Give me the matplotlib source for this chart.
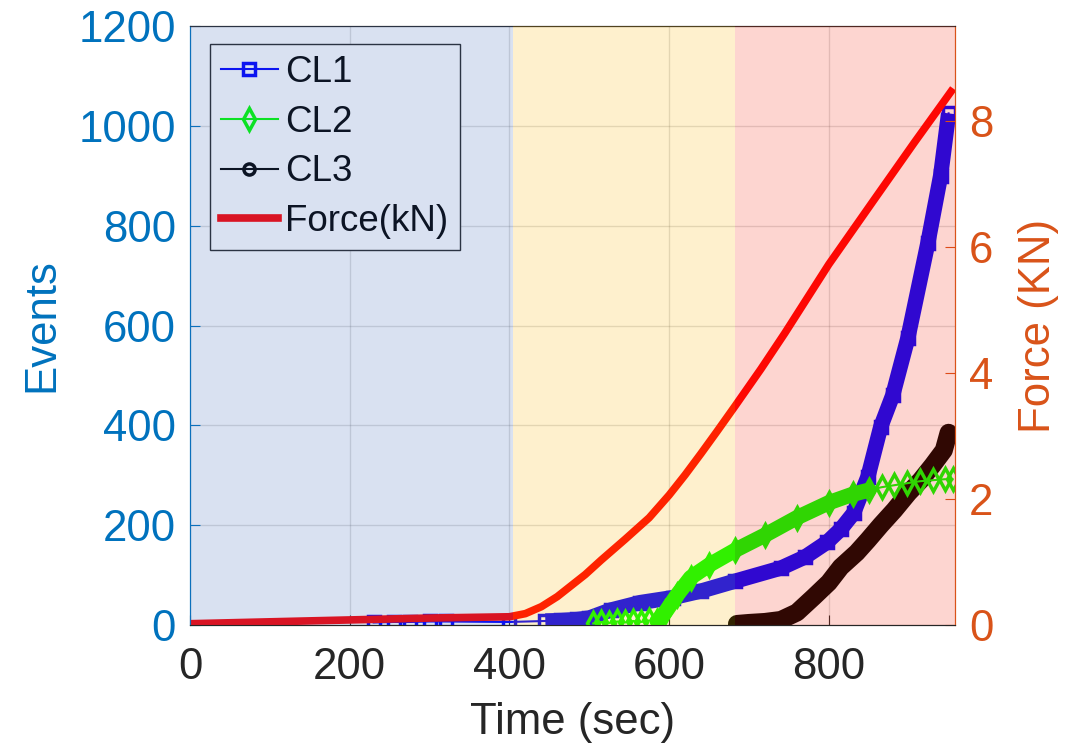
#!/usr/bin/env python3
"""Acoustic emission events per cluster against loading force."""

import matplotlib

matplotlib.use("Agg")
import matplotlib.pyplot as plt

plt.rcParams["font.family"] = ["Liberation Sans", "DejaVu Sans"]

# Cluster event counts (time in seconds)
cl1_time = [230, 255, 275, 300, 320, 400, 445, 465, 485, 500, 527, 564, 605, 640,
            683, 740, 770, 798, 815, 831, 849, 865, 880, 899, 924, 940, 950]
cl1_events = [5, 6, 6, 7, 7, 6, 8, 9, 11, 14, 30, 45, 55, 68,
              88, 114, 136, 166, 192, 224, 297, 397, 460, 575, 765, 900, 1025]

cl2_time = [505, 515, 525, 535, 545, 555, 565, 575, 585, 595, 610, 627, 650, 683,
            720, 760, 800, 830, 850, 866, 882, 898, 914, 930, 945, 955]
cl2_events = [3, 6, 4, 7, 5, 8, 6, 9, 8, 25, 60, 95, 120, 150,
              180, 215, 245, 262, 270, 276, 280, 284, 288, 290, 292, 292]

cl3_time = [685, 700, 720, 740, 760, 781, 800, 815, 835, 849, 865, 882, 900, 915,
            930, 944, 950]
cl3_events = [2, 4, 6, 10, 25, 56, 85, 116, 145, 170, 200, 230, 265, 290,
              320, 350, 385]

# Applied force (kN)
force_time = [0, 100, 200, 300, 400, 420, 440, 460, 475, 495, 515, 545, 575, 600,
              620, 640, 660, 683, 715, 745, 800, 857, 907, 953]
force_kn = [0.02, 0.05, 0.08, 0.11, 0.13, 0.18, 0.29, 0.45, 0.6, 0.8, 1.03, 1.36,
            1.7, 2.06, 2.38, 2.72, 3.07, 3.48, 4.06, 4.63, 5.72, 6.75, 7.65, 8.46]

# Loading stages
stage_edges = [0, 405, 683, 958]
stage_colors = ["#4169b9", "#fab405", "#f52d14"]

BLUE = "#0072BD"
ORANGE = "#D95319"
DARK = "#262626"

fig = plt.figure(figsize=(10.82, 7.5), dpi=100)
ax = fig.add_axes([0.1756, 0.1667, 0.7070, 0.7986])
ax2 = ax.twinx()

# thin line with markers, plus a thick band where points are packed tightly
l1, = ax.plot(cl1_time, cl1_events, "-", color="#0000ff", lw=1.5, marker="s",
              ms=8, mfc="none", mew=2.5, label="CL1", zorder=3)
ax.plot(cl1_time[6:], cl1_events[6:], color="#0000ff", lw=11,
        solid_capstyle="butt", zorder=3)

l2, = ax.plot(cl2_time, cl2_events, "-", color="#00ff00", lw=1.5, marker="d",
              ms=11, mfc="none", mew=2.5, label="CL2", zorder=4)
ax.plot(cl2_time[8:19], cl2_events[8:19], color="#00ff00", lw=11,
        solid_capstyle="round", zorder=4)

l3, = ax.plot(cl3_time, cl3_events, "-", color="#000000", lw=1.5, marker="o",
              ms=8, mfc="none", mew=2.5, label="CL3", zorder=2)
ax.plot(cl3_time, cl3_events, color="#000000", lw=13,
        solid_capstyle="round", zorder=2)

lf, = ax2.plot(force_time, force_kn, color="#ff0000", lw=5.5, label="Force(kN)",
               zorder=2)

# translucent stage shading sits over all curves
for x0, x1, c in zip(stage_edges[:-1], stage_edges[1:], stage_colors):
    ax2.axvspan(x0, x1, color=c, alpha=0.2, lw=0, zorder=5)

ax.set_xlim(0, 958)
ax.set_ylim(0, 1200)
ax2.set_ylim(0, 9.5)
ax.set_xticks([0, 200, 400, 600, 800])
ax.set_yticks(range(0, 1201, 200))
ax2.set_yticks([0, 2, 4, 6, 8])

ax.grid(True, color=DARK, alpha=0.15, lw=1)
ax.set_axisbelow(True)

ax.tick_params(axis="x", direction="in", length=7, colors=DARK, labelsize=31.5,
               pad=16)
ax.tick_params(axis="y", direction="in", length=7, colors=BLUE, labelsize=31.5,
               pad=10)
ax2.tick_params(axis="y", direction="in", length=7, colors=ORANGE,
                labelsize=31.5, pad=10)

for a in (ax, ax2):
    a.spines["top"].set_color(DARK)
    a.spines["bottom"].set_color(DARK)
    a.spines["left"].set_color(BLUE)
    a.spines["right"].set_color(ORANGE)

ax.set_xlabel("Time (sec)", fontsize=31.5, color=DARK, labelpad=10)
ax.set_ylabel("Events", fontsize=31.5, color=BLUE, labelpad=12)
ax2.set_ylabel("Force (KN)", fontsize=31.5, color=ORANGE, labelpad=18)

leg = ax.legend(handles=[l1, l2, l3, lf], loc="upper left",
                bbox_to_anchor=(0.026, 0.970), borderaxespad=0, fontsize=26.5,
                handlelength=1.55, handletextpad=0.2, labelspacing=0.4,
                borderpad=0.3, fancybox=False, framealpha=1)
leg.get_frame().set_edgecolor(DARK)
leg.get_frame().set_linewidth(1)
leg.set_zorder(1)

fig.savefig("out.png", dpi=100)
